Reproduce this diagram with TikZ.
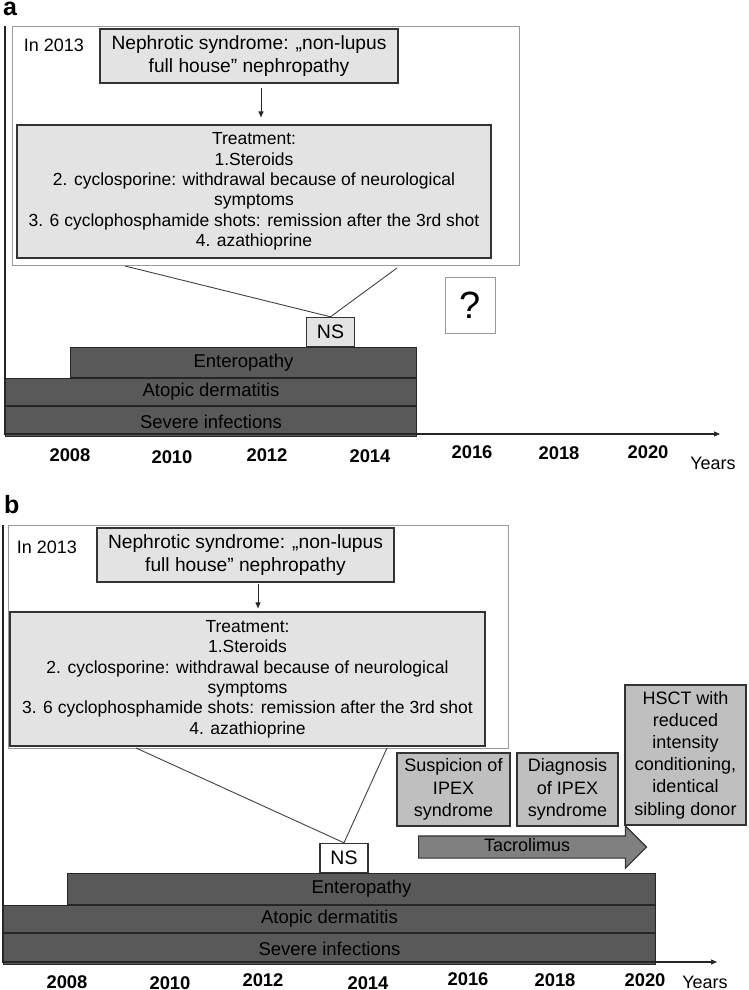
\documentclass[tikz,border=0pt]{standalone}
\usepackage{fontspec}
\setmainfont{Liberation Sans}
\usetikzlibrary{positioning,arrows.meta,shapes.arrows}

\begin{document}
\begin{tikzpicture}[x=1pt,y=-1pt,font=\fontsize{18}{22.3}\selectfont,>={Triangle[length=6pt,width=5pt]},
  frame/.style={rectangle,draw=black!40,line width=1pt,fill=white,inner sep=0pt},
  nbox/.style={rectangle,draw=black!80,line width=1.2pt,fill=black!11,align=center,inner sep=0pt,font=\fontsize{19.2}{23}\selectfont},
  tbox/.style={nbox,font=\fontsize{17.5}{20.4}\selectfont},
  nsbox/.style={rectangle,draw=black!80,line width=1.2pt,align=center,inner sep=0pt,minimum width=48,minimum height=29,font=\fontsize{19.5}{20}\selectfont},
  gbox/.style={rectangle,draw=black!80,line width=1.2pt,fill=black!25,align=center,inner sep=0pt},
  bar/.style={rectangle,draw=black!85,line width=1pt,fill=black!65,inner sep=0pt,font=\fontsize{18.5}{20}\selectfont},
  yr/.style={inner sep=0pt,text height=13.2pt,text depth=0pt,font=\bfseries\fontsize{18.4}{20}\selectfont},
  lbl/.style={anchor=base west,inner sep=0pt,text height=13pt,text depth=0pt,font=\bfseries\fontsize{25}{25}\selectfont},
  ar/.style={->,line width=1pt,black!85},
  lk/.style={line width=0.9pt,black!75},
  axis/.style={->,line width=1.1pt,black!85}]
\useasboundingbox (0,0) rectangle (749,990);

% panel a
\node[lbl] (pa) at (3,16) {a};
\node[frame,minimum width=507,minimum height=239,anchor=north west] (fra) at (12,26) {};
\node[inner sep=0pt] (ina) at (54,45) {In 2013};
\node[nbox,minimum width=298,minimum height=54] (nepa) at (249,56) {Nephrotic syndrome: „non-lupus\\full house” nephropathy};
\node[tbox,minimum width=474,minimum height=133] (trta) at (254,191.5) {Treatment:\\1.Steroids\\2. cyclosporine: withdrawal because of neurological\\symptoms\\3. 6 cyclophosphamide shots: remission after the 3rd shot\\4. azathioprine};
\draw[ar,shorten <=4pt,shorten >=7pt] ([xshift=12pt]nepa.south) -- ([xshift=7pt]trta.north);
\node[frame,minimum width=50,minimum height=56,font=\fontsize{38}{38}\selectfont] (qa) at (470,305) {?};
\node[bar,minimum width=346,minimum height=30,anchor=north west] (ena) at (70,347) {Enteropathy};
\node[bar,minimum width=411,minimum height=27,anchor=north east] (ada) at (ena.south east) {Atopic dermatitis};
\node[bar,minimum width=411,minimum height=30,anchor=north east] (sia) at (ada.south east) {Severe infections};
\node[nsbox,fill=black!11,anchor=south] (nsa) at (330.5,347) {NS};
\coordinate (la) at (125,266);
\coordinate (ra) at (397,268);
\draw[lk] (la) -- (nsa.north) -- (ra);
\coordinate (ta) at (5,26);
\coordinate (ea) at (720,434);
\draw[axis] (ta) |- (ea);
\foreach \y/\px/\py in {2008/70/455,2010/172/457,2012/267/455,2014/370/456,2016/472/452,2018/559/453,2020/648/452}
  \node[yr] (ya\y) at (\px,\py) {\y};
\node[inner sep=0pt] (yra) at (713,463) {Years};

% panel b
\node[lbl] (pb) at (4,513) {b};
\node[frame,minimum width=500,minimum height=223,anchor=north west] (frb) at (8,525) {};
\node[inner sep=0pt] (inb) at (47,547) {In 2013};
\node[nbox,minimum width=297,minimum height=54] (nepb) at (245.5,555) {Nephrotic syndrome: „non-lupus\\full house” nephropathy};
\node[tbox,minimum width=475,minimum height=134] (trtb) at (247.5,679) {Treatment:\\1.Steroids\\2. cyclosporine: withdrawal because of neurological\\symptoms\\3. 6 cyclophosphamide shots: remission after the 3rd shot\\4. azathioprine};
\draw[ar,shorten <=1pt,shorten >=3pt] ([xshift=12.5pt]nepb.south) -- ([xshift=10.5pt]trtb.north);
\node[gbox,minimum width=113,minimum height=73] (sus) at (453.5,789.5) {Suspicion of\\IPEX\\syndrome};
\node[gbox,minimum width=101,minimum height=73] (dia) at (567.5,789.5) {Diagnosis\\of IPEX\\syndrome};
\node[gbox,minimum width=121,minimum height=140,font=\fontsize{18}{22.2}\selectfont] (hsct) at (685.5,755) {HSCT with\\reduced\\intensity\\conditioning,\\identical\\sibling donor};
\node[single arrow,draw=black!80,line width=1.2pt,fill=black!50,minimum height=228,minimum width=41,
  single arrow head extend=10pt,single arrow tip angle=90,inner sep=3.5pt,text height=11pt,text depth=3pt,anchor=tail] (tac) at (418,847) {Tacrolimus};
\node[bar,minimum width=588,minimum height=31,anchor=north west] (enb) at (67,873) {Enteropathy};
\node[bar,minimum width=652,minimum height=27,anchor=north east] (adb) at (enb.south east) {Atopic dermatitis};
\node[bar,minimum width=652,minimum height=31,anchor=north east] (sib) at (adb.south east) {Severe infections};
\node[nsbox,fill=white,anchor=south] (nsb) at (344,873) {NS};
\coordinate (lb) at (136,748);
\coordinate (rb) at (387,748);
\draw[lk] (lb) -- (nsb.north) -- (rb);
\coordinate (tb) at (3,525);
\coordinate (eb) at (717,962);
\draw[axis] (tb) |- (eb);
\foreach \y/\px/\py in {2008/67/982,2010/170/983,2012/263/980,2014/368/983,2016/468/979,2018/555/980,2020/645/980}
  \node[yr] (yb\y) at (\px,\py) {\y};
\node[inner sep=0pt] (yrb) at (705,982) {Years};
\end{tikzpicture}
\end{document}
